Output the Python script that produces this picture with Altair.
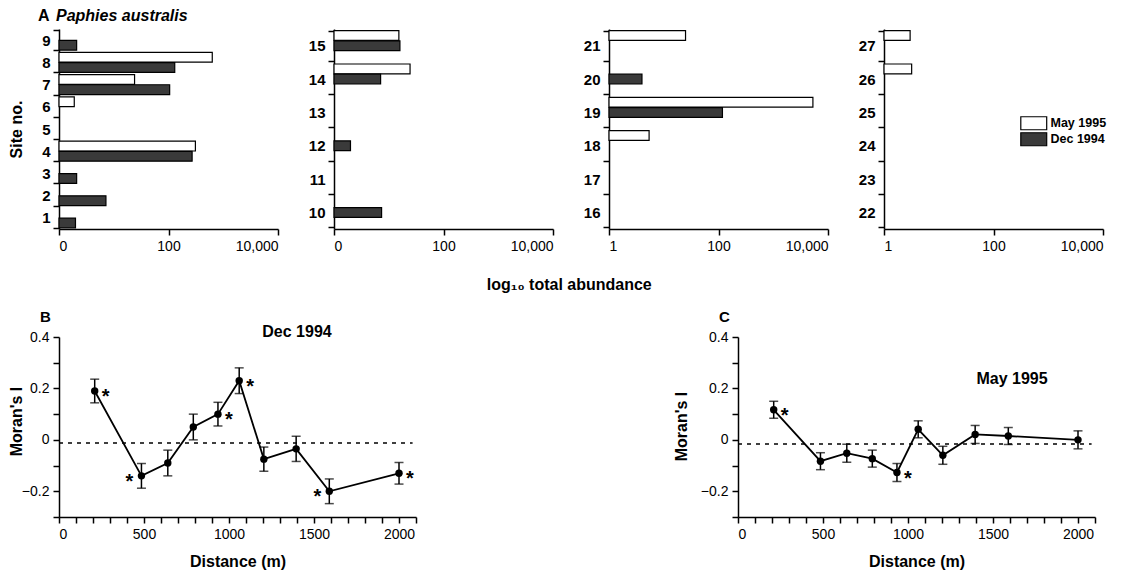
import altair as alt
import pandas as pd

FONT = "Liberation Sans"

# ---------------- Panel A: abundance per site (log scale) ----------------
SURVEYS = ["May 1995", "Dec 1994"]
may_sites = [4, 6, 7, 8, 14, 15, 18, 19, 21, 26, 27]
may_values = [310, 1.9, 24, 630, 24.5, 15.3, 5.4, 5300, 25, 3.2, 3.0]
dec_sites = [1, 2, 3, 4, 7, 8, 9, 10, 12, 14, 15, 19, 20]
dec_values = [2.0, 7.2, 2.1, 270, 105, 130, 2.1, 7.4, 2.0, 7.1, 16, 118, 4.0]
panel_site_ranges = [(1, 9), (10, 15), (16, 21), (22, 27)]
panel_zero_labels = ["0", "0", "1", "1"]
x_tick_values = [1, 100, 10000]

# ---------------- Panels B and C: Moran's I correlograms ----------------
distance = [210, 485, 640, 790, 935, 1060, 1205, 1395, 1590, 2000]
dec_I = [0.19, -0.14, -0.09, 0.05, 0.10, 0.23, -0.075, -0.035, -0.20, -0.13]
dec_err = [0.046, 0.048, 0.05, 0.05, 0.046, 0.05, 0.047, 0.049, 0.048, 0.042]
dec_star = ["right", "left", "", "", "right", "right", "", "", "left", "right"]
may_I = [0.117, -0.083, -0.052, -0.073, -0.127, 0.041, -0.06, 0.021, 0.015, 0.0]
may_err = [0.033, 0.033, 0.035, 0.033, 0.035, 0.033, 0.035, 0.035, 0.033, 0.035]
may_star = ["right", "", "", "", "right", "", "", "", "", ""]
dec_expected = -0.012
may_expected = -0.016
ref_end = 2080

bars_df = pd.concat([
    pd.DataFrame({"site": may_sites, "abundance": may_values, "survey": "May 1995"}),
    pd.DataFrame({"site": dec_sites, "abundance": dec_values, "survey": "Dec 1994"}),
], ignore_index=True)

BAR_W, BAR_H = 219, 200


def bar_panel(idx):
    lo, hi = panel_site_ranges[idx]
    sites = list(range(hi, lo - 1, -1))
    df = bars_df[(bars_df.site >= lo) & (bars_df.site <= hi)]
    zero = panel_zero_labels[idx]
    if idx == 3:
        legend = alt.Legend(
            orient="none", legendX=143.5, legendY=88, title=None,
            symbolType="M-3.7,-1.86L3.7,-1.86L3.7,1.86L-3.7,1.86Z", symbolSize=49,
            symbolStrokeColor="black", symbolStrokeWidth=1.2,
            labelFont=FONT, labelFontSize=12.5, labelFontWeight="bold",
            labelColor="black", rowPadding=-6, labelOffset=10.5, padding=0,
        )
    else:
        legend = None
    bars = alt.Chart(df).mark_bar(stroke="black", strokeWidth=1.2).encode(
        y=alt.Y(
            "site:O",
            scale=alt.Scale(domain=sites, paddingInner=0.1, paddingOuter=0.05),
            axis=alt.Axis(
                title="Site no." if idx == 0 else None, tickBand="extent",
                labelFontWeight="bold", labelFontSize=15, labelPadding=3,
                titleX=-35, titleY=BAR_H / 2, titleFontSize=16,
            ),
        ),
        yOffset=alt.YOffset("survey:N", scale=alt.Scale(domain=SURVEYS, paddingInner=0.04)),
        x=alt.X(
            "abundance:Q",
            scale=alt.Scale(type="log", domain=[1, 10000], nice=False),
            axis=alt.Axis(
                values=x_tick_values, title=None,
                labelExpr=f"datum.value == 1 ? '{zero}' : format(datum.value, ',')",
            ),
        ),
        x2=alt.datum(1),
        fill=alt.Fill("survey:N", scale=alt.Scale(domain=SURVEYS, range=["white", "#3a3a3a"]),
                      legend=legend),
    ).properties(width=BAR_W, height=BAR_H)
    if idx == 0:
        t1 = alt.Chart().mark_text(text="A", font=FONT, fontSize=16, fontWeight="bold",
                                   align="left", baseline="middle").encode(
            x=alt.value(-21), y=alt.value(-13))
        t2 = alt.Chart().mark_text(text="Paphies australis", font=FONT, fontSize=16,
                                   fontWeight="bold", fontStyle="italic",
                                   align="left", baseline="middle").encode(
            x=alt.value(-3), y=alt.value(-13))
        return alt.layer(bars, t1, t2)
    return bars


MW, MH = 357, 180
xs = alt.Scale(domain=[0, 2100], nice=False)
ys = alt.Scale(domain=[-0.3, 0.4], nice=False)


def moran_panel(I, err, star, expected, letter, label, label_x, label_y, title_x, title_y):
    df = pd.DataFrame({"d": distance, "I": I, "star": star})
    df["lo"] = df["I"] - pd.Series(err)
    df["hi"] = df["I"] + pd.Series(err)
    ref = pd.DataFrame({"x0": [0], "x1": [ref_end], "y": [expected]})

    xaxis = alt.Axis(values=list(range(0, 2101, 100)), title="Distance (m)",
                     labelExpr="datum.value % 500 == 0 ? format(datum.value, 'd') : ''")
    yaxis = alt.Axis(values=[-0.3, -0.2, -0.1, 0.0, 0.1, 0.2, 0.3, 0.4], title="Moran's I",
                     labelExpr="abs(round(datum.value * 10)) % 2 == 0 ? (abs(datum.value) < 0.001 ? '0' : format(datum.value, '.1f')) : ''",
                     titleX=title_x, titleY=title_y)

    def X(f):
        return alt.X(f, type="quantitative", scale=xs, axis=xaxis)

    def Y(f):
        return alt.Y(f, type="quantitative", scale=ys, axis=yaxis)

    base = alt.Chart(df)
    dashed = alt.Chart(ref).mark_rule(strokeDash=[4, 5], strokeWidth=1.6, color="black").encode(
        x=X("x0"), x2="x1", y=Y("y"))
    line = base.mark_line(color="black", strokeWidth=1.8).encode(x=X("d"), y=Y("I"))
    err_r = base.mark_rule(color="black", strokeWidth=1.5).encode(x=X("d"), y=Y("lo"), y2="hi")
    cap_lo = base.mark_tick(orient="horizontal", size=9, thickness=1.5, color="black").encode(
        x=X("d"), y=Y("lo"))
    cap_hi = base.mark_tick(orient="horizontal", size=9, thickness=1.5, color="black").encode(
        x=X("d"), y=Y("hi"))
    pts = base.mark_circle(size=55, color="black", opacity=1).encode(x=X("d"), y=Y("I"))
    star_r = base.transform_filter("datum.star == 'right'").mark_text(
        text="*", font=FONT, fontSize=20, fontWeight="bold", dx=11, dy=6).encode(x=X("d"), y=Y("I"))
    star_l = base.transform_filter("datum.star == 'left'").mark_text(
        text="*", font=FONT, fontSize=20, fontWeight="bold", dx=-12, dy=6).encode(x=X("d"), y=Y("I"))
    t_letter = alt.Chart().mark_text(text=letter, font=FONT, fontSize=15, fontWeight="bold",
                                     align="left", baseline="middle").encode(
        x=alt.value(-19), y=alt.value(-20))
    t_label = alt.Chart().mark_text(text=label, font=FONT, fontSize=16, fontWeight="bold",
                                    align="center", baseline="middle").encode(
        x=alt.value(label_x), y=alt.value(label_y))
    return alt.layer(dashed, line, err_r, cap_lo, cap_hi, pts, star_r, star_l,
                     t_letter, t_label).properties(width=MW, height=MH)


top = alt.hconcat(
    *[bar_panel(i) for i in range(4)], spacing=56, bounds="flush",
    title=alt.TitleParams("log₁₀ total abundance", orient="bottom", anchor="middle",
                          fontSize=16, fontWeight="bold", font=FONT, offset=24, dx=12),
).resolve_scale(fill="independent").resolve_legend(fill="independent")
bottom = alt.hconcat(
    moran_panel(dec_I, dec_err, dec_star, dec_expected, "B", "Dec 1994", 238, -5, -35, 84),
    moran_panel(may_I, may_err, may_star, may_expected, "C", "May 1995", 274, 42, -49, 89),
    spacing=322, bounds="flush",
)

chart = alt.vconcat(top, bottom, spacing=17).properties(
    padding={"left": 0, "top": 0, "right": 5, "bottom": 5},
).configure(font=FONT).configure_view(stroke=None).configure_axis(
    grid=False, domainColor="black", domainWidth=1.5, tickColor="black", tickWidth=1.5,
    tickSize=6, labelFont=FONT, labelFontSize=14, labelColor="black", labelPadding=4,
    titleFont=FONT, titleFontSize=16, titleFontWeight="bold", titleColor="black",
    titlePadding=12,
).configure_title(color="black")

chart.save("out.html", embed_options={"renderer": "svg", "actions": False})
